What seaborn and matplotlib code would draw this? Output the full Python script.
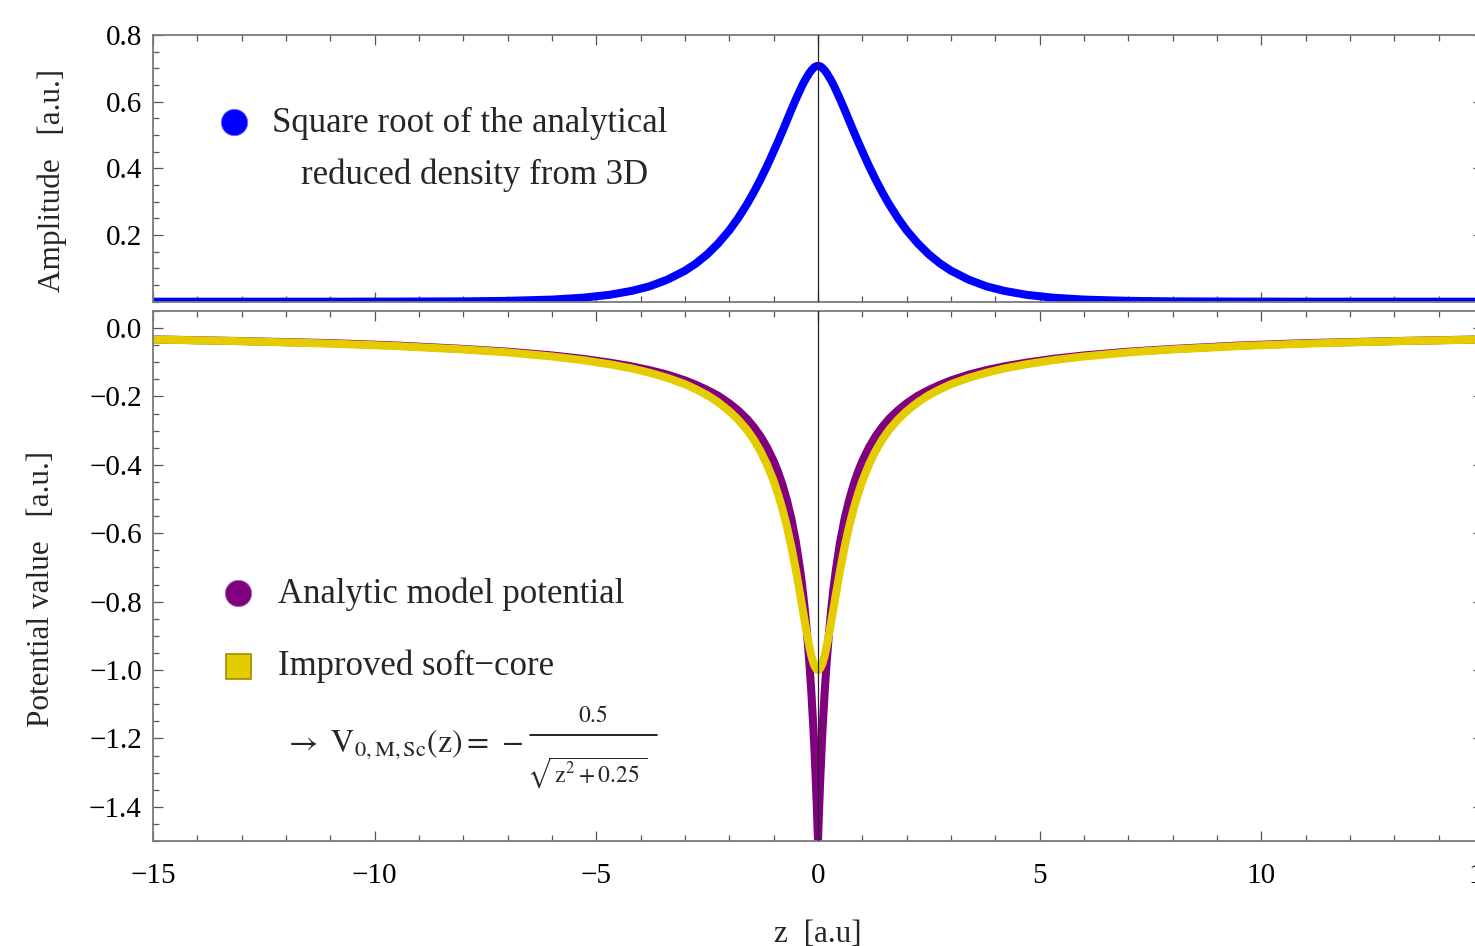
import numpy as np
import pandas as pd
import matplotlib
matplotlib.use("Agg")
import matplotlib.pyplot as plt
import seaborn as sns
from matplotlib.lines import Line2D
from matplotlib.ticker import MultipleLocator, FixedLocator, FuncFormatter

# values for z >= 0; the picture is symmetric about z = 0
z_half = [0.0, 0.025, 0.05, 0.075, 0.1, 0.15, 0.2, 0.25, 0.3, 0.35, 0.4, 0.5, 0.6, 0.7,
          0.8, 0.9, 1.0, 1.15, 1.3, 1.45, 1.6, 1.8, 2.0, 2.25, 2.5, 2.75, 3.0, 3.4, 3.8,
          4.2, 4.7, 5.3, 6.0, 7.0, 8.0, 9.5, 11.0, 13.0, 15.0]

amp_half = [0.707, 0.707, 0.706, 0.704, 0.701, 0.694, 0.685, 0.674, 0.663, 0.650, 0.636,
            0.607, 0.576, 0.544, 0.512, 0.481, 0.451, 0.407, 0.366, 0.328, 0.293, 0.251,
            0.214, 0.175, 0.142, 0.115, 0.093, 0.066, 0.046, 0.0325, 0.0207, 0.012, 0.0063,
            0.0025, 0.001, 0.0003, 0.0, 0.0, 0.0]

analytic_half = [-1.500, -1.406, -1.322, -1.248, -1.180, -1.065, -0.969, -0.889, -0.820,
                 -0.761, -0.710, -0.625, -0.558, -0.504, -0.459, -0.421, -0.389, -0.349,
                 -0.316, -0.289, -0.266, -0.241, -0.220, -0.198, -0.181, -0.166, -0.153,
                 -0.136, -0.123, -0.112, -0.101, -0.090, -0.080, -0.069, -0.061, -0.051,
                 -0.044, -0.038, -0.033]

softcore_half = [-1.000, -0.999, -0.995, -0.989, -0.981, -0.958, -0.928, -0.894, -0.857,
                 -0.819, -0.781, -0.707, -0.640, -0.581, -0.530, -0.486, -0.447, -0.399,
                 -0.359, -0.326, -0.298, -0.268, -0.243, -0.217, -0.196, -0.179, -0.164,
                 -0.1455, -0.1305, -0.118, -0.1058, -0.0939, -0.083, -0.071, -0.0624,
                 -0.0526, -0.0454, -0.0384, -0.0333]

top_yticks = [0.2, 0.4, 0.6, 0.8]
bot_yticks = [-1.4, -1.2, -1.0, -0.8, -0.6, -0.4, -0.2, 0.0]


def mirror(vals, negate=False):
    left_side = [-v if negate else v for v in reversed(vals[1:])]
    return left_side + list(vals)


df = pd.DataFrame({
    "z": mirror(z_half, negate=True),
    "amp": mirror(amp_half),
    "analytic": mirror(analytic_half),
    "soft": mirror(softcore_half),
})

sns.set_style("ticks")
plt.rcParams["font.family"] = ["Liberation Serif", "DejaVu Serif"]
plt.rcParams["mathtext.fontset"] = "stix"

BLUE = "#0000ff"
PURPLE = "#800080"
YELLOW = "#e5cc00"
FRAME = "#7a7a7a"
LW = 5.8

W_PX, H_PX = 1475, 946
fig = plt.figure(figsize=(W_PX / 100, H_PX / 100), dpi=100)
left = 153 / W_PX
width = 1330 / W_PX
ax_top = fig.add_axes([left, 1 - 301.7 / H_PX, width, 266.7 / H_PX])
ax_bot = fig.add_axes([left, 1 - 841 / H_PX, width, 530 / H_PX])


def fmt_y(v, pos):
    return f"{v:.1f}".replace("-", "\u2212")


def fmt_x(v, pos):
    return f"{v:.0f}".replace("-", "\u2212")


for ax in (ax_top, ax_bot):
    ax.set_xlim(-15, 15)
    ax.xaxis.set_major_locator(MultipleLocator(5))
    ax.xaxis.set_minor_locator(MultipleLocator(1))
    ax.yaxis.set_minor_locator(MultipleLocator(0.05))
    ax.tick_params(which="both", direction="in", top=True, right=True,
                   color="#555555", width=0.9, labelsize=21, labelcolor="black")
    ax.tick_params(which="major", length=7, pad=8)
    ax.tick_params(which="minor", length=4.3)
    for sp in ax.spines.values():
        sp.set_color(FRAME)
        sp.set_linewidth(1.3)
    ax.axvline(0, color="#222222", lw=0.9, zorder=5)

# top panel
sns.lineplot(data=df, x="z", y="amp", ax=ax_top, color=BLUE, lw=LW, estimator=None,
             sort=False, solid_joinstyle="round")
ax_top.set_ylim(0, 0.8)
ax_top.yaxis.set_major_locator(FixedLocator(top_yticks))
ax_top.yaxis.set_major_formatter(FuncFormatter(fmt_y))
ax_top.tick_params(labelbottom=False)
ax_top.set_xlabel("")
ax_top.set_ylabel("Amplitude   [a.u.]", fontsize=22.5, va="center")
ax_top.yaxis.set_label_coords(-0.0755, 0.456)

ax_top.plot([0.0609], [0.674], "o", ms=19, color=BLUE, mec="#7070ff", mew=0.6,
            transform=ax_top.transAxes, clip_on=False)
ax_top.text(0.2383, 0.670, "Square root of the analytical", transform=ax_top.transAxes,
            ha="center", va="center", fontsize=25)
ax_top.text(0.2417, 0.475, "reduced density from 3D", transform=ax_top.transAxes,
            ha="center", va="center", fontsize=25)

# bottom panel
sns.lineplot(data=df, x="z", y="analytic", ax=ax_bot, color=PURPLE, lw=LW, estimator=None,
             sort=False, solid_joinstyle="round")
sns.lineplot(data=df, x="z", y="soft", ax=ax_bot, color=YELLOW, lw=LW, estimator=None,
             sort=False, solid_joinstyle="round")
ax_bot.set_ylim(-1.5, 0.05)
ax_bot.yaxis.set_major_locator(FixedLocator(bot_yticks))
ax_bot.yaxis.set_major_formatter(FuncFormatter(fmt_y))
ax_bot.xaxis.set_major_formatter(FuncFormatter(fmt_x))
ax_bot.tick_params(axis="x", which="major", pad=16)
ax_bot.set_ylabel("Potential value   [a.u.]", fontsize=22.5, va="center")
ax_bot.yaxis.set_label_coords(-0.0842, 0.475)
ax_bot.set_xlabel("z  [a.u]", fontsize=22.5, labelpad=22)

ax_bot.plot([0.0639], [0.468], "o", ms=19, color=PURPLE, mec="#b070b0", mew=0.6,
            transform=ax_bot.transAxes, clip_on=False)
ax_bot.text(0.094, 0.466, "Analytic model potential", transform=ax_bot.transAxes,
            ha="left", va="center", fontsize=25)
ax_bot.plot([0.0639], [0.330], "s", ms=18, color=YELLOW, mec="#a08c00", mew=1.2,
            transform=ax_bot.transAxes, clip_on=False)
ax_bot.text(0.094, 0.330, "Improved soft\u2212core", transform=ax_bot.transAxes,
            ha="left", va="center", fontsize=25)

# formula: left part, then a hand-set fraction
ax_bot.text(284 / W_PX, 1 - 752 / H_PX,
            r"$\rightarrow\ \mathrm{V}_{0,\mathrm{M,Sc}}(\mathrm{z})=\,\mathrm{\u2212}$".replace(r"\mathrm{\u2212}", "\u2212"),
            transform=fig.transFigure, ha="left", va="baseline", fontsize=23)
ax_bot.text(593 / W_PX, 1 - 716 / H_PX, r"$0.5$", transform=fig.transFigure,
            ha="center", va="center", fontsize=17)
fig.add_artist(Line2D([530 / W_PX, 657 / W_PX], [1 - 735 / H_PX, 1 - 735 / H_PX],
                      transform=fig.transFigure, color="black", lw=1.2))
ax_bot.text(587 / W_PX, 1 - 773 / H_PX, r"$\sqrt{\,\mathrm{z}^{2}+0.25\,}$",
            transform=fig.transFigure, ha="center", va="center", fontsize=17)

fig.savefig("out.png", dpi=100)
